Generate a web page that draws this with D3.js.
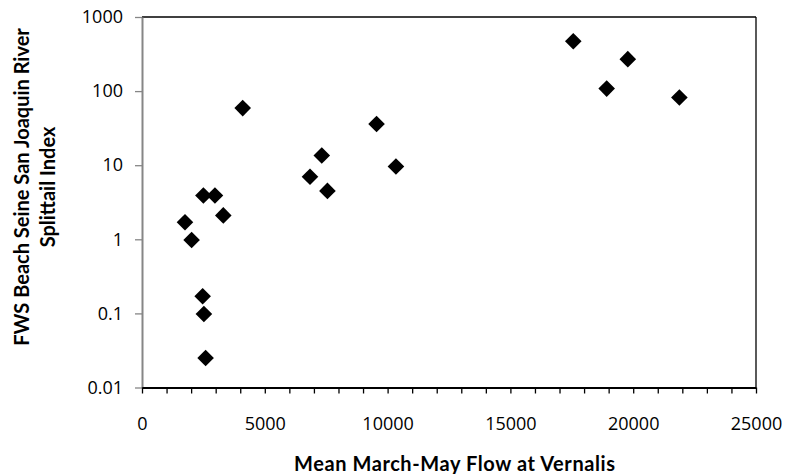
<!DOCTYPE html>
<html>
<head>
<meta charset="utf-8">
<script src="https://cdn.jsdelivr.net/npm/d3@7"></script>
<style>
  html, body { margin: 0; padding: 0; background: #fff; }
  svg { display: block; }
</style>
</head>
<body>
<svg id="chart" width="787" height="474"></svg>
<script>
// Mean March-May flow at Vernalis (cfs)
const flowValues = [4100, 2500, 2970, 3310, 1750, 2020, 2470, 2520, 2590,
                    9550, 7320, 10340, 6840, 7550,
                    17560, 19780, 18920, 21880];
// FWS beach seine San Joaquin River splittail index
const indexValues = [59, 3.9, 3.9, 2.1, 1.7, 0.98, 0.17, 0.098, 0.025,
                     36, 13.5, 9.6, 7.0, 4.5,
                     470, 270, 108, 82];
const xTickValues = [0, 5000, 10000, 15000, 20000, 25000];
const xMinorTicks = d3.range(0, 25001, 1000);
const yTickValues = [0.01, 0.1, 1, 10, 100, 1000];
const yTickLabels = ["0.01", "0.1", "1", "10", "100", "1000"];
const xTitle = "Mean March-May Flow at Vernalis";
const yTitleLines = ["FWS Beach Seine San Joaquin River", "Splittail Index"];

const svg = d3.select("#chart");
const pLeft = 142, pRight = 756, pTop = 17, pBottom = 387.5;

const x = d3.scaleLinear().domain([0, 25000]).range([pLeft, pRight]);
const y = d3.scaleLog().domain([0.01, 1000]).range([pBottom, pTop]);

const tickFont = "Open Sans, 'Liberation Sans', Arial, sans-serif";

// plot border (top & right black)
svg.append("line").attr("x1", pLeft).attr("x2", pRight).attr("y1", pTop).attr("y2", pTop)
  .attr("stroke", "#000").attr("stroke-width", 1.3);
svg.append("line").attr("x1", pRight).attr("x2", pRight).attr("y1", pTop).attr("y2", pBottom)
  .attr("stroke", "#000").attr("stroke-width", 1.3);

// Y axis (gray)
const yAxis = d3.axisLeft(y).tickValues(yTickValues)
  .tickFormat((d, i) => yTickLabels[i]).tickSize(7).tickSizeOuter(0).tickPadding(12);
const gy = svg.append("g").attr("transform", `translate(${pLeft},0)`).call(yAxis);
gy.select(".domain").attr("stroke", "#868686").attr("stroke-width", 2);
gy.selectAll(".tick line").attr("stroke", "#868686").attr("stroke-width", 1.3);
gy.selectAll(".tick text").attr("font-family", tickFont).attr("font-size", 18).attr("fill", "#000");

// X axis (black) with minor ticks
const xAxis = d3.axisBottom(x).tickValues(xMinorTicks)
  .tickFormat(d => xTickValues.includes(d) ? d3.format("d")(d) : "")
  .tickSize(6).tickSizeOuter(0).tickPadding(23.5);
const gx = svg.append("g").attr("transform", `translate(0,${pBottom})`).call(xAxis);
gx.select(".domain").attr("stroke", "#000").attr("stroke-width", 2);
gx.selectAll(".tick line").attr("stroke", "#000").attr("stroke-width", 1.3);
gx.selectAll(".tick text").attr("font-family", tickFont).attr("font-size", 18).attr("fill", "#000");

// points as diamonds
const r = 8.3;
const diamond = `M0,${-r}L${r},0L0,${r}L${-r},0Z`;
svg.append("g").selectAll("path")
  .data(flowValues.map((v, i) => [v, indexValues[i]]))
  .join("path")
  .attr("d", diamond)
  .attr("transform", d => `translate(${x(d[0])},${y(d[1])})`)
  .attr("fill", "#000");

// titles
const titleFont = "Lato, 'Open Sans', sans-serif";
svg.append("text")
  .attr("x", 454.5).attr("y", 470.5)
  .attr("text-anchor", "middle")
  .attr("font-family", titleFont).attr("font-weight", "bold").attr("font-size", 20)
  .attr("textLength", 321).attr("lengthAdjust", "spacing")
  .text(xTitle);

const yt = svg.append("g").attr("transform", `translate(0,187) rotate(-90)`);
yTitleLines.forEach((t, i) => {
  yt.append("text")
    .attr("x", 0).attr("y", 29 + i * 26)
    .attr("text-anchor", "middle")
    .attr("font-family", titleFont).attr("font-weight", "bold").attr("font-size", 20)
    .text(t);
});
</script>
</body>
</html>
